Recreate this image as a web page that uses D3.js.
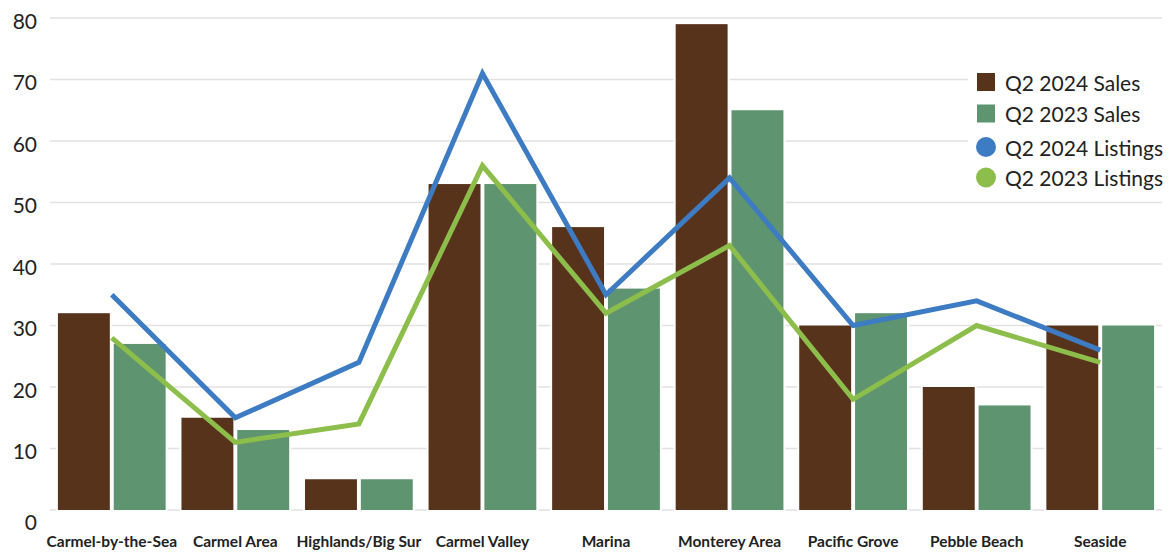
<!DOCTYPE html>
<html>
<head>
<meta charset="utf-8">
<script src="https://cdn.jsdelivr.net/npm/d3@7"></script>
<style>
  html, body { margin: 0; padding: 0; background: #fff; }
  svg { display: block; }
  text { font-family: Lato, "Open Sans", sans-serif; fill: #222; }
</style>
</head>
<body>
<div id="chart"></div>
<script>
const categories = ['Carmel-by-the-Sea', 'Carmel Area', 'Highlands/Big Sur', 'Carmel Valley', 'Marina',
    'Monterey Area', 'Pacific Grove', 'Pebble Beach', 'Seaside'];
const sales2024 = [32, 15, 5, 53, 46, 79, 30, 20, 30];
const sales2023 = [27, 13, 5, 53, 36, 65, 32, 17, 30];
const listings2024 = [35, 15, 24, 71, 35, 54, 30, 34, 26];
const listings2023 = [28, 11, 14, 56, 32, 43, 18, 30, 24];
const yTicks = [0, 10, 20, 30, 40, 50, 60, 70, 80];

const barSeries = [
    { name: 'Q2 2024 Sales', values: sales2024, color: '#58331c' },
    { name: 'Q2 2023 Sales', values: sales2023, color: '#5f9470' }
];
const lineSeries = [
    { name: 'Q2 2024 Listings', values: listings2024, color: '#3d7cc2' },
    { name: 'Q2 2023 Listings', values: listings2023, color: '#8dbe4c' }
];

const width = 1171, height = 556;
const svg = d3.select('#chart').append('svg')
    .attr('width', width)
    .attr('height', height);

const x = d3.scaleBand()
    .domain(categories)
    .range([50, 1162])
    .paddingInner(0.128)
    .paddingOuter(0.064);
const xSub = d3.scaleBand()
    .domain(barSeries.map(s => s.name))
    .range([0, x.bandwidth()])
    .paddingInner(0.07);
const y = d3.scaleLinear()
    .domain([0, 80])
    .range([510, 18]);

// gridlines
svg.append('g')
    .selectAll('line')
    .data(yTicks)
    .join('line')
    .attr('x1', 50)
    .attr('x2', 1162)
    .attr('y1', d => y(d))
    .attr('y2', d => y(d))
    .attr('stroke', '#e2e2e2')
    .attr('stroke-width', 1.5);

// y labels
svg.append('g')
    .selectAll('text')
    .data(yTicks)
    .join('text')
    .attr('x', 37)
    .attr('y', d => y(d) + (d === 0 ? 11 : 2))
    .attr('text-anchor', 'end')
    .attr('dominant-baseline', 'central')
    .style('font-size', '21px')
    .text(d => d);

// bars
const groups = svg.append('g')
    .selectAll('g')
    .data(categories)
    .join('g')
    .attr('transform', d => `translate(${x(d)},0)`);
groups.selectAll('rect')
    .data((d, i) => barSeries.map(s => ({ name: s.name, value: s.values[i], color: s.color })))
    .join('rect')
    .attr('x', d => xSub(d.name))
    .attr('width', xSub.bandwidth())
    .attr('y', d => y(d.value))
    .attr('height', d => y(0) - y(d.value))
    .attr('fill', d => d.color)
    .attr('stroke', '#fff')
    .attr('stroke-width', 4)
    .style('paint-order', 'stroke');

// listing lines
const line = d3.line()
    .x((d, i) => x(categories[i]) + x.bandwidth() / 2)
    .y(d => y(d));
svg.append('g')
    .selectAll('path')
    .data(lineSeries)
    .join('path')
    .attr('d', d => line(d.values))
    .attr('fill', 'none')
    .attr('stroke', d => d.color)
    .attr('stroke-width', 5)
    .attr('stroke-linejoin', 'miter');

// x labels
svg.append('g')
    .selectAll('text')
    .data(categories)
    .join('text')
    .attr('x', d => x(d) + x.bandwidth() / 2)
    .attr('y', 541)
    .attr('text-anchor', 'middle')
    .attr('dominant-baseline', 'central')
    .style('font-size', '15.5px')
    .style('font-weight', 'bold')
    .text(d => d);

// legend
const legend = svg.append('g');
legend.append('rect')
    .attr('x', 968).attr('y', 64)
    .attr('width', 203).attr('height', 128)
    .attr('fill', '#fff');
const legendRows = [
    ...barSeries.map(s => ({ name: s.name, color: s.color, shape: 'square' })),
    ...lineSeries.map(s => ({ name: s.name, color: s.color, shape: 'circle' }))
];
const rowY = [82, 113.5, 147, 177.5];
const item = legend.selectAll('g')
    .data(legendRows)
    .join('g')
    .attr('transform', (d, i) => `translate(986,${rowY[i]})`);
item.filter(d => d.shape === 'square')
    .append('rect')
    .attr('x', -9).attr('y', -9)
    .attr('width', 18).attr('height', 18)
    .attr('fill', d => d.color);
item.filter(d => d.shape === 'circle')
    .append('circle')
    .attr('r', 10)
    .attr('fill', d => d.color);
item.append('text')
    .attr('x', 19)
    .attr('dominant-baseline', 'central')
    .style('font-size', '21px')
    .text(d => d.name);
</script>
</body>
</html>
